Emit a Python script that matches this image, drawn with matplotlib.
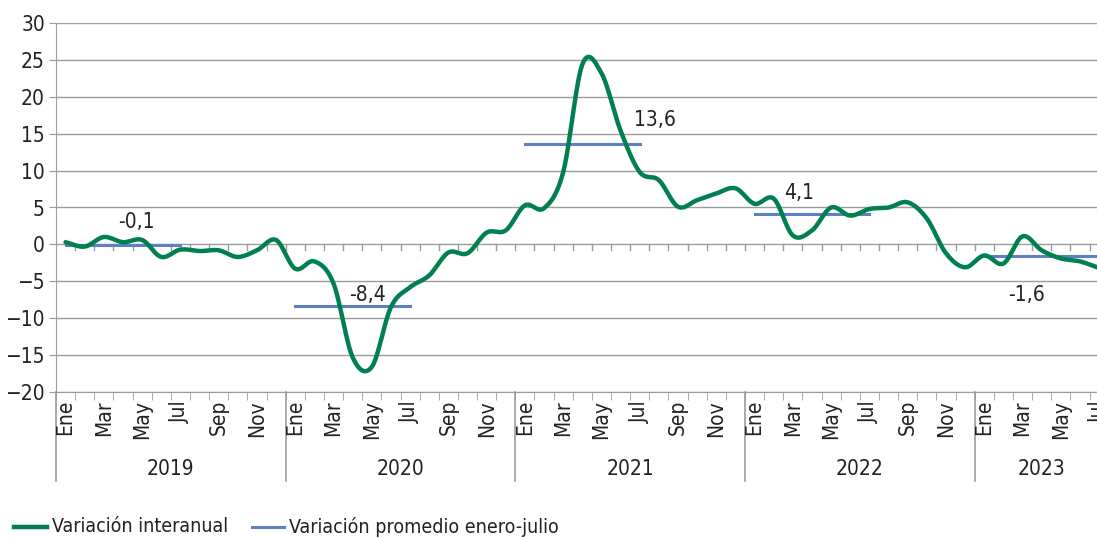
import matplotlib.pyplot as plt
import numpy as np
from matplotlib.lines import Line2D

plt.rcParams['font.family'] = ['DejaVu Sans']
plt.rcParams['font.stretch'] = 'condensed'

# monthly year-on-year variation, Jan 2019 - Jul 2023
years = ['2019', '2020', '2021', '2022', '2023']
months = ['Ene', 'Feb', 'Mar', 'Abr', 'May', 'Jun', 'Jul', 'Ago', 'Sep', 'Oct', 'Nov', 'Dic']
v2019 = [0.3, -0.3, 1.0, 0.3, 0.6, -1.7, -0.7, -0.9, -0.8, -1.7, -0.8, 0.6]
v2020 = [-3.3, -2.3, -5.3, -15.3, -16.6, -8.5, -5.8, -4.2, -1.1, -1.2, 1.6, 1.9]
v2021 = [5.3, 4.9, 9.8, 24.4, 23.2, 15.4, 9.8, 8.7, 5.1, 6.0, 6.9, 7.6]
v2022 = [5.5, 6.2, 1.2, 1.9, 5.0, 3.9, 4.8, 5.0, 5.7, 3.5, -1.2, -3.1]
v2023 = [-1.5, -2.6, 1.1, -0.8, -1.9, -2.3, -3.2]
# average Jan-Jul variation per year
avg_jan_jul = [-0.1, -8.4, 13.6, 4.1, -1.6]
avg_labels = ['-0,1', '-8,4', '13,6', '4,1', '-1,6']

values = np.array(v2019 + v2020 + v2021 + v2022 + v2023)
x = np.arange(len(values))
green = '#00804f'
blue = '#5f7fc4'
grid = '#9c9c9c'
txt = '#222222'

fig = plt.figure(figsize=(10.97, 5.38), dpi=100)
ax = fig.add_axes([56 / 1097, 1 - 392 / 538, 1 - 56 / 1097, 369 / 538])

for k in range(-20, 31, 5):
    ax.axhline(k, color=grid, lw=1, zorder=0)

# smooth curve through the monthly points (cubic Hermite segments)
def smooth(xp, yp, n=12):
    xs, ys = [], []
    m = np.gradient(yp)
    for i in range(len(xp) - 1):
        t = np.linspace(0, 1, n, endpoint=False)
        h00 = 2 * t**3 - 3 * t**2 + 1
        h10 = t**3 - 2 * t**2 + t
        h01 = -2 * t**3 + 3 * t**2
        h11 = t**3 - t**2
        xs.extend(xp[i] + t)
        ys.extend(h00 * yp[i] + h10 * m[i] + h01 * yp[i + 1] + h11 * m[i + 1])
    xs.append(xp[-1])
    ys.append(yp[-1])
    return np.array(xs), np.array(ys)

xs, ys = smooth(x, values)
ax.plot(xs, ys, color=green, lw=3.2, solid_capstyle='round', zorder=3)

# where the average labels sit (x in months, y in %)
label_pos = [(3.7, 3.0), (15.75, -6.9), (30.8, 16.9), (38.3, 6.9), (50.2, -6.8)]
for i, a in enumerate(avg_jan_jul):
    start = 12 * i
    ax.plot([start, start + 6], [a, a], color=blue, lw=2.2, zorder=2)
    lx, ly = label_pos[i]
    ax.text(lx, ly, avg_labels[i], fontsize=15, ha='center', va='center', color=txt)

# small ticks hanging from the zero line at month boundaries
for b in np.arange(0.5, len(values) - 0.5, 1):
    ax.plot([b, b], [0, -0.8], color=grid, lw=1, zorder=1)

ax.set_yticks(range(-20, 31, 5))
ax.tick_params(axis='y', length=5, color=grid, labelsize=15, labelcolor=txt, pad=3)

ax.set_xticks([])
ax.set_xticks(np.arange(-0.5, len(values), 1), minor=True)
ax.tick_params(axis='x', which='minor', length=6, color=grid)
ax.set_xlim(-0.5, 53.89)
ax.set_ylim(-20, 30)

for s in ['top', 'right']:
    ax.spines[s].set_visible(False)
ax.spines['left'].set_color(grid)
ax.spines['bottom'].set_color(grid)

trans = ax.get_xaxis_transform()
# month labels every other month
for i in x[::2]:
    ax.text(i, -0.022, months[i % 12], transform=trans, rotation=90, ha='center', va='top',
            fontsize=15, color=txt, clip_on=False)
for i, yr in enumerate(years):
    ax.add_line(Line2D([12 * i - 0.5] * 2, [0, -0.24], transform=trans, color=grid, lw=1.2, clip_on=False))
    center = 12 * i + (min(12, len(values) - 12 * i) - 1) / 2
    ax.text(center, -0.21, yr, transform=trans, ha='center', va='center', fontsize=15, color=txt)

# legend
ly = 1 - 527 / 538
fig.add_artist(Line2D([14 / 1097, 47 / 1097], [ly, ly], color=green, lw=3.2))
fig.text(52 / 1097, ly, 'Variación interanual', fontsize=14, va='center', color=txt)
fig.add_artist(Line2D([252 / 1097, 284 / 1097], [ly, ly], color=blue, lw=2.2))
fig.text(289 / 1097, ly, 'Variación promedio enero-julio', fontsize=14, va='center', color=txt)

fig.savefig('out.png', dpi=100)
